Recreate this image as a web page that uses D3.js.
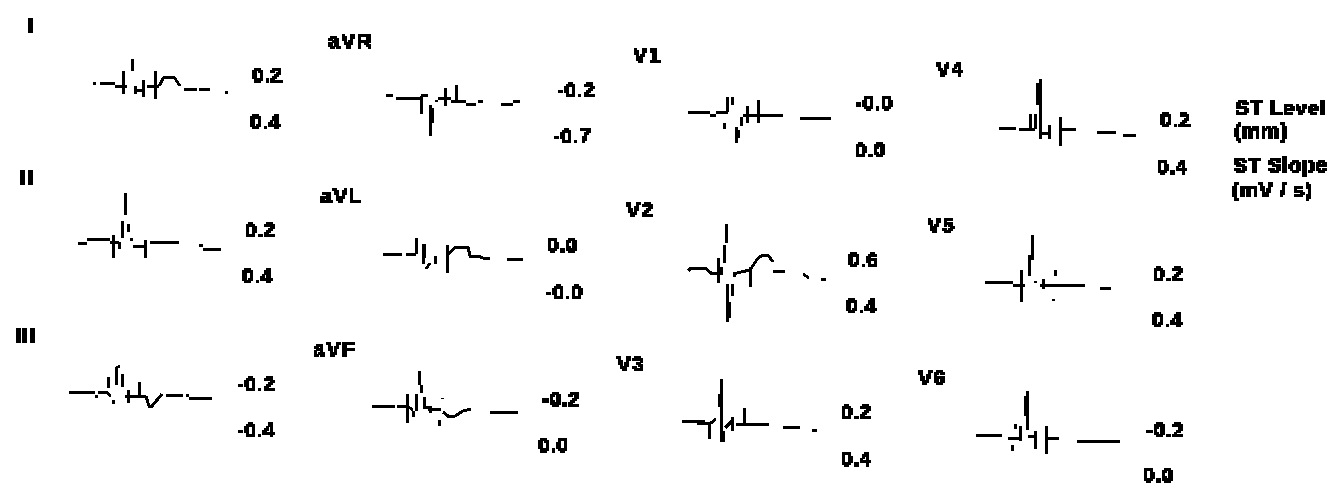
<!DOCTYPE html>
<html>
<head>
<meta charset="utf-8">
<script src="https://cdn.jsdelivr.net/npm/d3@7"></script>
<style>
  body { margin: 0; background: #fff; }
  svg { display: block; }
  text { font-family: "Liberation Sans", sans-serif; font-weight: bold; fill: #000; }
  .trace { fill: none; stroke: #000; stroke-width: 3; shape-rendering: crispEdges; }
</style>
</head>
<body>
<section id="visualization"></section>
<script>
// lead names and ST values printed next to each trace
const leads = ['I', 'II', 'III', 'aVR', 'aVL', 'aVF', 'V1', 'V2', 'V3', 'V4', 'V5', 'V6'];
const stLevel = ['0.2', '0.2', '-0.2', '-0.2', '0.0', '-0.2', '-0.0', '0.6', '0.2', '0.2', '0.2', '-0.2'];
const stSlope = ['0.4', '0.4', '-0.4', '-0.7', '-0.0', '0.0', '0.0', '0.4', '0.4', '0.4', '0.4', '0.0'];
const legendLines = ['ST Level', '(mm)', 'ST Slope', '(mV / s)'];

// traces: runs of [sample, amplitude], the scan has gaps so each lead is a list of runs
const traceI = [
  [[0,0],[3,0]], [[7,0],[22,0]], [[22,-3],[34,-3]], [[30,12],[30,-11]], [[39,24],[39,12]],
  [[41,-7],[51,-7]], [[42,-3],[42,-11]], [[50,3],[50,-14]], [[54,-3],[66,-3]], [[62,12],[62,-16]],
  [[66,-3],[71,6],[81,6],[87,-3]], [[91,-6],[104,-6]], [[106,-6],[117,-6]], [[132,-9],[135,-9]]
];
const traceII = [
  [[0,-1],[9,-1]], [[9,3],[32,3]], [[35,7],[35,-16]], [[32,0],[41,0]], [[41,0],[41,-7]],
  [[47,49],[47,27]], [[44,21],[44,4]], [[50,18],[50,10]], [[52,3],[55,3]], [[55,-4],[67,-4]],
  [[67,2],[67,-16]], [[72,0],[101,0]], [[121,-3],[125,-3]], [[125,-7],[143,-7]]
];
const traceIII = [
  [[0,0],[26,0]], [[26,-4],[29,-4]], [[29,0],[37,0],[42,-4]], [[44,-8],[44,-12]], [[39,15],[39,4]],
  [[47,7],[47,24],[51,26]], [[53,18],[53,5]], [[56,-4],[77,-4]], [[59,2],[59,-11]], [[70,10],[70,-5]],
  [[77,-4],[80,-14],[83,-14],[93,-2]], [[97,-3],[114,-3]], [[117,-3],[120,-3]], [[120,-6],[143,-6]]
];
const traceAVR = [
  [[0,2],[7,2]], [[10,-1],[35,-1]], [[35,1],[35,-17]], [[35,2],[42,2]], [[44,-8],[44,-39]],
  [[46,-11],[46,-26]], [[50,-3],[50,-5]], [[52,-1],[65,-1]], [[59,9],[59,-9]], [[70,12],[70,-6]],
  [[65,-4],[80,-4]], [[80,-7],[90,-7]], [[92,-4],[97,-4]], [[115,-7],[127,-7]], [[127,-4],[134,-4]]
];
const traceAVL = [
  [[0,0],[19,0]], [[23,0],[33,0]], [[33,16],[33,0]], [[40,10],[40,-10]], [[41,10],[41,-4]],
  [[43,-15],[47,-9]], [[52,-2],[52,-10]], [[64,9],[64,-19]], [[64,-1],[73,7],[85,7],[87,-2],[95,-2],[100,-4],[107,-4]],
  [[124,-5],[140,-5]]
];
const traceAVF = [
  [[0,0],[23,0]], [[25,0],[34,0]], [[35,12],[35,-17]], [[35,0],[41,-4]], [[41,-5],[41,-11]],
  [[44,12],[44,-5]], [[47,35],[47,21]], [[49,21],[49,13]], [[52,9],[52,-1],[59,-1]], [[56,-3],[69,-3]],
  [[58,0],[58,-7]], [[70,8],[70,7]], [[67,-14],[67,-20]], [[71,-6],[76,-10],[83,-10],[91,-5],[99,-3]],
  [[118,-6],[146,-6]]
];
const traceV1 = [
  [[0,0],[22,0]], [[22,-3],[28,-3]], [[28,0],[40,0]], [[39,15],[39,0]], [[44,15],[44,7]],
  [[36,-11],[36,-17]], [[48,-15],[48,-31]], [[50,-18],[50,-26]], [[53,-5],[53,-14]], [[59,6],[59,-11]],
  [[70,12],[70,-11]], [[55,-3],[95,-3]], [[112,-6],[143,-6]]
];
const traceV2 = [
  [[0,-2],[3,1],[17,1],[23,-4],[30,-4]], [[30,11],[30,-14]], [[36,24],[36,6]], [[38,45],[38,26]], [[33,2],[33,-6]],
  [[39,-15],[39,-53]], [[41,-33],[41,-49]], [[44,-15],[44,-27]], [[46,-8],[46,-4],[49,-4],[62,-1]], [[62,2],[62,-18]],
  [[62,-1],[70,11],[75,14],[80,14],[85,7]], [[85,-2],[97,-2]], [[115,-5],[121,-9]], [[133,-10],[138,-10]]
];
const traceV3 = [
  [[0,0],[23,0]], [[15,-2],[29,-2]], [[27,-2],[27,-18]], [[29,-2],[34,2]], [[39,42],[39,-21]],
  [[37,27],[37,14]], [[41,-10],[41,-21]], [[43,-7],[51,1]], [[50,4],[50,-10]], [[54,-3],[87,-3]],
  [[62,13],[62,-3]], [[101,-6],[118,-6]], [[130,-9],[135,-9]]
];
const traceV4 = [
  [[0,0],[17,0]], [[20,-1],[36,-1]], [[31,14],[31,-1]], [[36,14],[36,-1]], [[38,45],[38,23]],
  [[41,49],[41,-11]], [[41,-5],[51,-5]], [[50,3],[50,-11]], [[61,11],[61,-18]], [[61,-1],[77,-1]],
  [[98,-4],[117,-4]], [[124,-7],[137,-7]]
];
const traceV5 = [
  [[0,0],[28,0]], [[28,-3],[40,-3]], [[36,12],[36,-20]], [[44,27],[44,6]], [[47,47],[47,22]],
  [[50,1],[50,-1]], [[58,3],[58,-7]], [[55,-3],[100,-3]], [[70,12],[70,6]], [[68,-17],[68,-19]],
  [[115,-6],[126,-6]]
];
const traceV6 = [
  [[0,0],[26,0]], [[32,-3],[44,-3]], [[39,11],[39,6]], [[44,9],[44,-6]], [[36,-10],[36,-16]],
  [[49,39],[49,19]], [[51,44],[51,5]], [[52,-1],[59,-1]], [[59,4],[59,-14]], [[70,9],[70,-19]],
  [[70,-3],[83,-3]], [[101,-6],[144,-6]]
];
const traces = [traceI, traceII, traceIII, traceAVR, traceAVL, traceAVF, traceV1, traceV2, traceV3, traceV4, traceV5, traceV6];

// where each lead sits on the sheet: trace origin, then name / level / slope text
const origins = [[93,83],[78,242],[69,392],[386,97],[383,254],[372,406],[688,112],[688,269],[682,421],[999,128],[985,282],[976,435]];
const labelPos = [[28,32],[20,185],[15,342],[328,48],[320,203],[313,356],[633,62],[626,217],[617,371],[936,76],[927,232],[918,385]];
const levelPos = [[252,82],[245,237],[237,391],[557,97],[547,252],[542,406],[855,110],[848,267],[841,419],[1160,127],[1153,281],[1146,437]];
const slopePos = [[250,129],[242,283],[237,437],[553,143],[545,299],[538,452],[855,157],[846,313],[841,466],[1157,174],[1152,327],[1143,482]];
const legendPos = [[1235,115],[1234,138],[1233,172],[1232,197]];

var svg = d3.select("section#visualization")
            .append("svg")
            .attr("width", 1340)
            .attr("height", 488)
            .attr("viewBox", "0 0 1340 488");

// coarse blocks on the type, the original is a low res 1 bit scan
var filter = svg.append("filter")
                .attr("id", "blocky")
                .attr("filterUnits", "userSpaceOnUse")
                .attr("x", 0).attr("y", 0)
                .attr("width", 1340).attr("height", 488)
                .attr("color-interpolation-filters", "sRGB");
filter.append("feFlood").attr("x", 1).attr("y", 1).attr("width", 1).attr("height", 1).attr("flood-color", "#000");
filter.append("feComposite").attr("width", 2).attr("height", 2);
filter.append("feTile").attr("result", "grid");
filter.append("feComposite").attr("in", "SourceGraphic").attr("in2", "grid").attr("operator", "in");
filter.append("feMorphology").attr("operator", "dilate").attr("radius", 1);
filter.append("feComponentTransfer")
      .append("feFuncA")
      .attr("type", "discrete")
      .attr("tableValues", "0 1 1");

let line = d3.line();
let textLayer = svg.append("g").attr("filter", "url(#blocky)");

leads.forEach( (lead, i) => {
    let ox = origins[i][0];
    let oy = origins[i][1];
    let x = d3.scaleLinear().domain([0, 150]).range([ox, ox + 150]);
    let y = d3.scaleLinear().domain([-60, 60]).range([oy + 60, oy - 60]);

    line.x(d => x(d[0])).y(d => y(d[1]));

    svg.append("g")
       .selectAll("path")
       .data(traces[i])
       .join("path")
       .attr("class", "trace")
       .attr("d", line);

    [[lead, labelPos[i], 1.5], [stLevel[i], levelPos[i], 0.5], [stSlope[i], slopePos[i], 0.5]].forEach( t => {
      textLayer.append("text")
         .attr("x", t[1][0])
         .attr("y", t[1][1])
         .attr("font-size", 21)
         .attr("letter-spacing", t[2])
         .text(t[0]);
    });
  });

legendLines.forEach( (txt, i) => {
    textLayer.append("text")
       .attr("x", legendPos[i][0])
       .attr("y", legendPos[i][1])
       .attr("font-size", 21)
       .attr("letter-spacing", 0.6)
       .text(txt);
  });
</script>
</body>
</html>
